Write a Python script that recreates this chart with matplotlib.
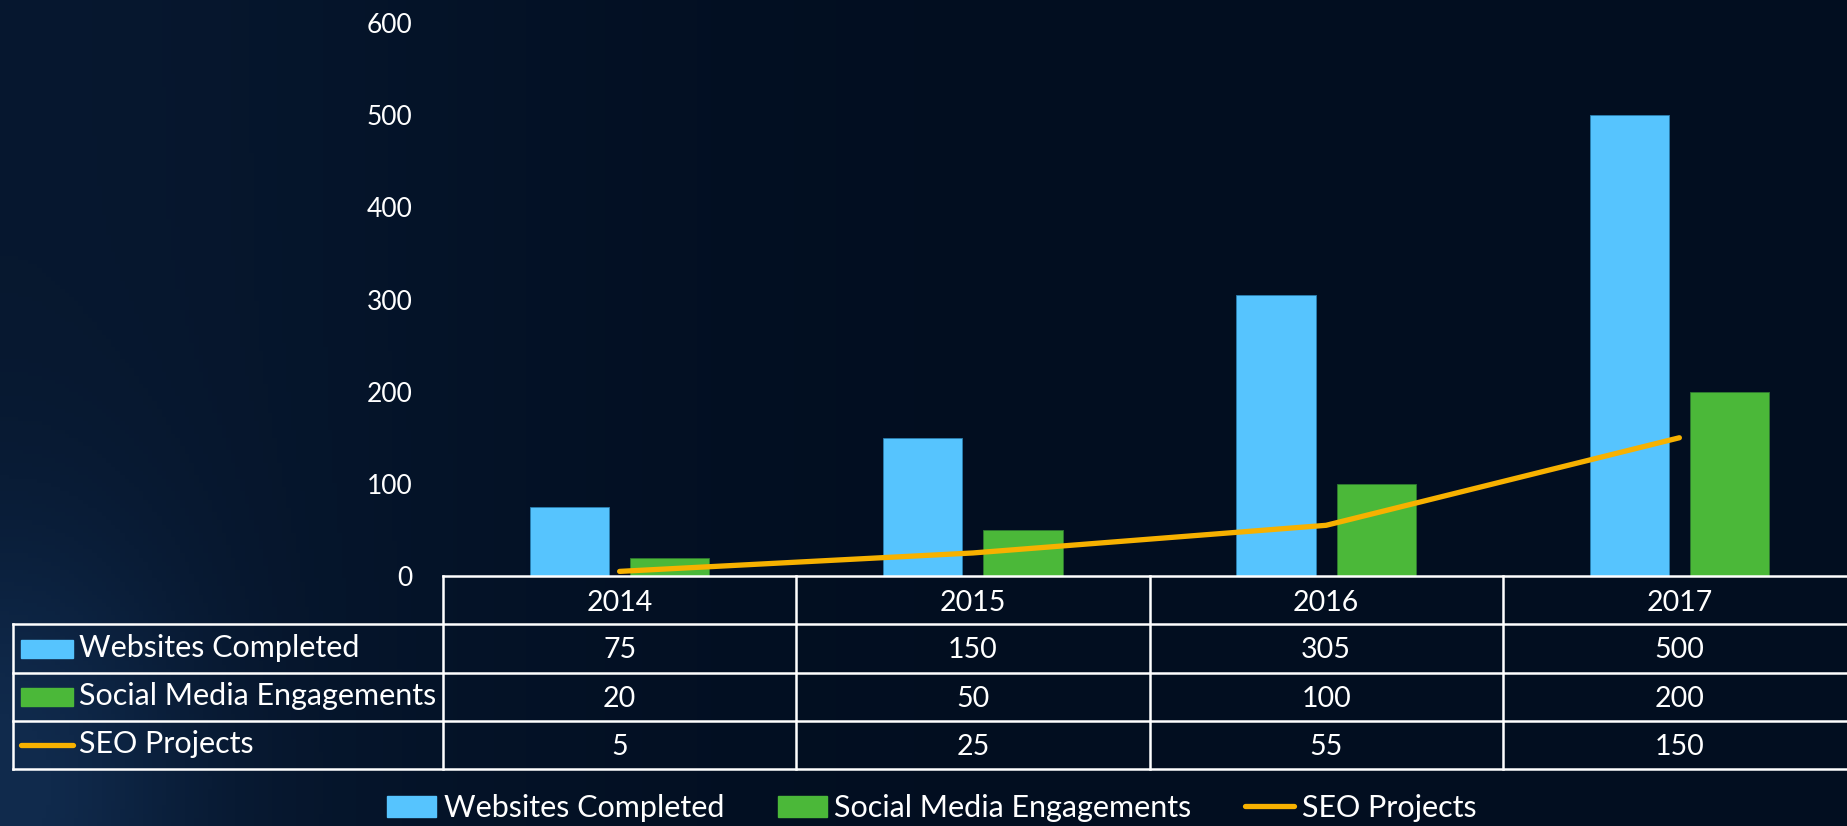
import numpy as np
import matplotlib
matplotlib.use("Agg")
import matplotlib.pyplot as plt
from matplotlib.patches import Rectangle
from matplotlib.lines import Line2D

years = ["2014", "2015", "2016", "2017"]
websites = [75, 150, 305, 500]
social = [20, 50, 100, 200]
seo = [5, 25, 55, 150]
series_names = ["Websites Completed", "Social Media Engagements", "SEO Projects"]
yticks = [0, 100, 200, 300, 400, 500, 600]

BLUE = "#56c4fe"
GREEN = "#4bb839"
ORANGE = "#f7b100"
BG = "#020f21"

plt.rcParams["font.family"] = ["Lato", "DejaVu Sans"]

W, H = 1847, 826
fig = plt.figure(figsize=(W / 100, H / 100), dpi=100)
fig.patch.set_facecolor(BG)

# faint glow on the left side of the slide
bg = fig.add_axes([0, 0, 1, 1], zorder=-10)
yy, xx = np.mgrid[0:1:200j, 0:1:400j]
glow = (np.exp(-((xx / 0.3) ** 2)) * 0.35
        + np.exp(-(((xx - 0.0) / 0.1) ** 2 + ((yy - 0.05) / 0.3) ** 2)) * 0.7)
c0 = np.array([0x02, 0x0e, 0x20]) / 255
c1 = np.array([0x10, 0x2a, 0x4c]) / 255
img = c0 + np.clip(glow, 0, 1)[..., None] * (c1 - c0)
bg.imshow(img, extent=[0, 1, 0, 1], aspect="auto", origin="lower")
bg.set_axis_off()

# plot area in pixels: left 443, right 1856 (runs past the edge), y0 at 576, 600 at 23
left, right, y0, ytop = 443, 1856, 576, 23
ax = fig.add_axes([left / W, 1 - y0 / H, (right - left) / W, (y0 - ytop) / H])
ax.patch.set_alpha(0)
x = np.arange(len(years))
bw = 0.224
ax.bar(x - 0.142, websites, bw, color=BLUE, edgecolor="#2a7fb0", linewidth=0.6, zorder=2)
ax.bar(x + 0.142, social, bw, color=GREEN, edgecolor="#2f7a30", linewidth=0.6, zorder=2)
ax.plot(x, seo, color=ORANGE, lw=3.8, solid_capstyle="round", zorder=3)
ax.set_xlim(-0.5, len(years) - 0.5)
ax.set_ylim(0, 600)
ax.set_yticks(yticks)
ax.set_xticks([])
ax.tick_params(axis="y", length=0, pad=22, labelsize=19, labelcolor="white")
for s in ax.spines.values():
    s.set_visible(False)

# data table under the axis
fs = 20.5
row_px = [576, 624, 673, 721, 769]
lab_left = 13


def fy(py):
    return 1 - py / H


def fx(px):
    return px / W


col_px = [left + i * (right - left) / len(years) for i in range(len(years) + 1)]
lw = 1.8
fig.add_artist(Line2D([fx(left), fx(right)], [fy(row_px[0])] * 2, color="white", lw=lw))
for r in row_px[1:]:
    fig.add_artist(Line2D([fx(lab_left), fx(right)], [fy(r)] * 2, color="white", lw=lw))
fig.add_artist(Line2D([fx(lab_left)] * 2, [fy(row_px[1]), fy(row_px[-1])], color="white", lw=lw))
for c in col_px:
    fig.add_artist(Line2D([fx(c)] * 2, [fy(row_px[0]), fy(row_px[-1])], color="white", lw=lw))

for i, yr in enumerate(years):
    cx = (col_px[i] + col_px[i + 1]) / 2
    fig.text(fx(cx), fy((row_px[0] + row_px[1]) / 2 + 3), yr, color="white", fontsize=fs,
             ha="center", va="center")
rows = [websites, social, seo]
for r, vals in enumerate(rows):
    cy = (row_px[r + 1] + row_px[r + 2]) / 2
    for i, v in enumerate(vals):
        cx = (col_px[i] + col_px[i + 1]) / 2
        fig.text(fx(cx), fy(cy + 2), str(v), color="white", fontsize=fs, ha="center", va="center")
    # legend key inside the row label cell
    if r < 2:
        fig.add_artist(Rectangle((fx(21), fy(cy + 9)), (73 - 21) / W, 18 / H,
                                 color=[BLUE, GREEN][r]))
    else:
        fig.add_artist(Line2D([fx(21), fx(73)], [fy(cy)] * 2, color=ORANGE, lw=3.8,
                              solid_capstyle="round"))
    fig.text(fx(79), fy(cy - 1), series_names[r], color="white", fontsize=22,
             ha="left", va="center")

# bottom legend
handles = [Rectangle((0, 0), 1, 1, color=BLUE), Rectangle((0, 0), 1, 1, color=GREEN),
           Line2D([], [], color=ORANGE, lw=3.8, solid_capstyle="round")]
fig.legend(handles, series_names, loc="center", bbox_to_anchor=(0.5045, 1 - 808 / H),
           ncol=3, frameon=False, fontsize=22, labelcolor="white",
           handlelength=1.6, handleheight=0.7, handletextpad=0.25, columnspacing=1.75)

fig.savefig("out.png", dpi=100, facecolor=fig.get_facecolor())
